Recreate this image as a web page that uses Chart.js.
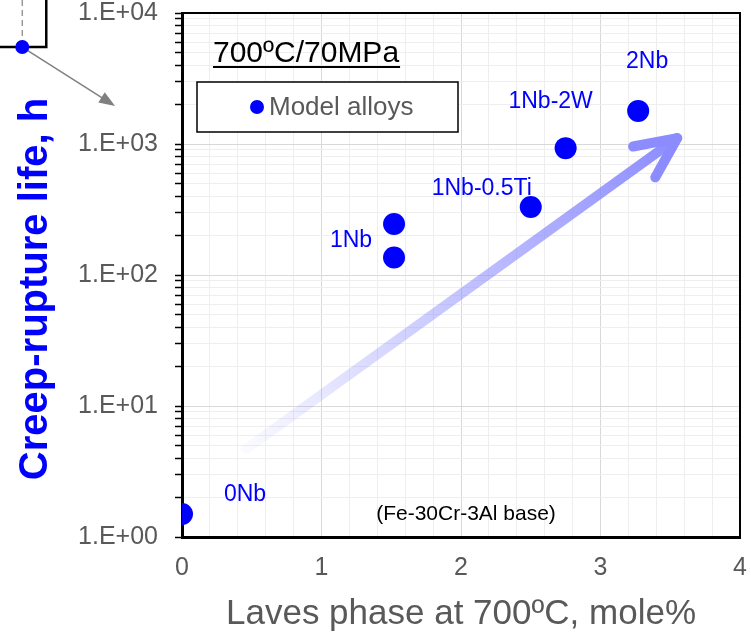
<!DOCTYPE html>
<html>
<head>
<meta charset="utf-8">
<script src="https://cdn.jsdelivr.net/npm/chart.js@4.4.0/dist/chart.umd.min.js"></script>
<style>
  html, body { margin: 0; padding: 0; background: #fff; }
</style>
</head>
<body>
<canvas id="creepChart" width="751" height="635"></canvas>
<script>
const alloys = ["0Nb", "1Nb", "1Nb", "1Nb-0.5Ti", "1Nb-2W", "2Nb"];
const lavesPhase = [0, 1.52, 1.52, 2.5, 2.75, 3.27];
const ruptureLife = [1.5, 245, 136, 330, 930, 1790];
const pointLabels = ["0Nb", "1Nb", "", "1Nb-0.5Ti", "1Nb-2W", "2Nb"];

const xTicks = [0, 1, 2, 3, 4];
const xTickLabels = ["0", "1", "2", "3", "4"];
const xMinorStep = 0.2;
const yTicks = [1, 10, 100, 1000, 10000];
const yTickLabels = ["1.E+00", "1.E+01", "1.E+02", "1.E+03", "1.E+04"];

// trend arrow and the cut-off inset marker, in data units
const trendStart = { x: 0.46, y: 4.7 };
const trendEnd = { x: 3.55, y: 1110 };
const insetDot = { x: -1.145, y: 5500 };
const insetCorner = { x: -0.973, y: 5500 };
const insetArrowTip = { x: -0.48, y: 1950 };

const blue = "#0000ff";
const gray = "#595959";
const fontFamily = "'Liberation Sans', Arial, sans-serif";
const majorGrid = "#d9d9d9";
const minorGrid = "#eeeeee";

// label offsets from its point, px
const labelOffsets = [[63, -19], [-43, 17], null, [-49, -18], [-15, -46], [9, -49]];

function buildPoints() {
    let pts = [];
    for (let i = 0; i < lavesPhase.length; i++) {
        pts.push({ x: lavesPhase[i], y: ruptureLife[i] });
    }
    return pts;
}

function isOnList(v, list) {
    for (let i = 0; i < list.length; i++) {
        if (Math.abs(v - list[i]) < 1e-6 * Math.max(1, list[i])) return i;
    }
    return -1;
}

function px(chart, p) {
    return { x: chart.scales.x.getPixelForValue(p.x), y: chart.scales.y.getPixelForValue(p.y) };
}

function noLabelPadding(scale) {
    scale.paddingTop = 0;
    scale.paddingBottom = 0;
    scale.paddingLeft = 0;
    scale.paddingRight = 0;
}

const decorPlugin = {
    id: "decor",
    beforeDatasetsDraw(chart) {
        const ctx = chart.ctx;
        const a = px(chart, trendStart);
        const b = px(chart, trendEnd);
        const grad = ctx.createLinearGradient(a.x, a.y, b.x, b.y);
        grad.addColorStop(0, "rgba(140,140,255,0.04)");
        grad.addColorStop(1, "rgba(140,140,255,1)");
        ctx.save();
        ctx.lineCap = "round";
        ctx.lineJoin = "round";
        ctx.lineWidth = 10;
        ctx.strokeStyle = grad;
        ctx.beginPath();
        ctx.moveTo(a.x, a.y);
        ctx.lineTo(b.x, b.y);
        ctx.stroke();
        const back = Math.atan2(a.y - b.y, a.x - b.x);
        const armLen = 45;
        const spread = 25 * Math.PI / 180;
        ctx.strokeStyle = "rgb(140,140,255)";
        ctx.beginPath();
        ctx.moveTo(b.x + armLen * Math.cos(back + spread), b.y + armLen * Math.sin(back + spread));
        ctx.lineTo(b.x, b.y);
        ctx.lineTo(b.x + armLen * Math.cos(back - spread), b.y + armLen * Math.sin(back - spread));
        ctx.stroke();
        ctx.restore();
    },
    afterDraw(chart) {
        const ctx = chart.ctx;
        const area = chart.chartArea;
        ctx.save();

        // top and right frame
        ctx.strokeStyle = "#000";
        ctx.lineWidth = 2;
        ctx.beginPath();
        ctx.moveTo(area.left, area.top);
        ctx.lineTo(area.right, area.top);
        ctx.lineTo(area.right, area.bottom);
        ctx.stroke();

        // point labels
        const meta = chart.getDatasetMeta(0);
        ctx.fillStyle = blue;
        ctx.font = "23px " + fontFamily;
        ctx.textAlign = "center";
        ctx.textBaseline = "middle";
        for (let i = 0; i < pointLabels.length; i++) {
            if (!pointLabels[i] || !labelOffsets[i]) continue;
            const el = meta.data[i];
            ctx.fillText(pointLabels[i], el.x + labelOffsets[i][0], el.y + labelOffsets[i][1]);
        }

        // heading
        ctx.fillStyle = "#000";
        ctx.font = "30px " + fontFamily;
        ctx.textAlign = "left";
        ctx.textBaseline = "alphabetic";
        const head = "700ºC/70MPa";
        const hx = area.left + 31, hy = area.top + 49;
        ctx.fillText(head, hx, hy);
        const hw = ctx.measureText(head).width;
        ctx.fillRect(hx, hy + 4, hw + 1, 2);

        // legend box
        ctx.lineWidth = 1.5;
        ctx.strokeStyle = "#000";
        ctx.fillStyle = "#fff";
        ctx.fillRect(area.left + 15, area.top + 69, 261, 50);
        ctx.strokeRect(area.left + 15, area.top + 69, 261, 50);
        ctx.fillStyle = blue;
        ctx.beginPath();
        ctx.arc(area.left + 75, area.top + 94, 7, 0, Math.PI * 2);
        ctx.fill();
        ctx.fillStyle = gray;
        ctx.font = "26px " + fontFamily;
        ctx.textBaseline = "middle";
        ctx.fillText("Model alloys", area.left + 87, area.top + 95);

        // base note
        ctx.fillStyle = "#000";
        ctx.font = "21px " + fontFamily;
        ctx.textAlign = "center";
        ctx.fillText("(Fe-30Cr-3Al base)", area.left + 284, area.bottom - 23);

        // y title
        ctx.save();
        ctx.translate(36, (area.top + area.bottom) / 2 + 14);
        ctx.rotate(-Math.PI / 2);
        ctx.fillStyle = blue;
        ctx.font = "bold 40px " + fontFamily;
        ctx.textAlign = "center";
        ctx.textBaseline = "middle";
        ctx.fillText("Creep-rupture life, h", 0, 0);
        ctx.restore();

        // inset marker cut off at the top left
        const d = px(chart, insetDot);
        const c = px(chart, insetCorner);
        const t = px(chart, insetArrowTip);
        ctx.strokeStyle = "#999";
        ctx.lineWidth = 1.5;
        ctx.setLineDash([6, 4]);
        ctx.beginPath();
        ctx.moveTo(d.x, 0);
        ctx.lineTo(d.x, d.y);
        ctx.stroke();
        ctx.setLineDash([]);
        ctx.strokeStyle = "#000";
        ctx.lineWidth = 2.5;
        ctx.beginPath();
        ctx.moveTo(0, c.y);
        ctx.lineTo(c.x, c.y);
        ctx.lineTo(c.x, 0);
        ctx.stroke();
        const ang = Math.atan2(t.y - d.y, t.x - d.x);
        ctx.strokeStyle = "#808080";
        ctx.fillStyle = "#808080";
        ctx.lineWidth = 1.5;
        ctx.beginPath();
        ctx.moveTo(d.x, d.y);
        ctx.lineTo(t.x - 12 * Math.cos(ang), t.y - 12 * Math.sin(ang));
        ctx.stroke();
        ctx.beginPath();
        ctx.moveTo(t.x, t.y);
        ctx.lineTo(t.x - 16 * Math.cos(ang) + 6 * Math.sin(ang), t.y - 16 * Math.sin(ang) - 6 * Math.cos(ang));
        ctx.lineTo(t.x - 16 * Math.cos(ang) - 6 * Math.sin(ang), t.y - 16 * Math.sin(ang) + 6 * Math.cos(ang));
        ctx.closePath();
        ctx.fill();
        ctx.fillStyle = blue;
        ctx.beginPath();
        ctx.arc(d.x, d.y, 7, 0, Math.PI * 2);
        ctx.fill();

        ctx.restore();
    }
};

new Chart(document.getElementById("creepChart"), {
    type: "scatter",
    data: {
        datasets: [{
            label: "Model alloys",
            data: buildPoints(),
            backgroundColor: blue,
            borderWidth: 0,
            pointRadius: 11,
            pointHoverRadius: 11
        }]
    },
    options: {
        responsive: false,
        animation: false,
        devicePixelRatio: 1,
        layout: { padding: { left: 0, top: 13, right: 10, bottom: 0 } },
        plugins: {
            legend: { display: false },
            title: { display: false },
            tooltip: { enabled: false }
        },
        scales: {
            x: {
                type: "linear",
                min: 0,
                max: 4,
                afterBuildTicks(scale) {
                    let ticks = [];
                    for (let v = xTicks[0]; v <= xTicks[xTicks.length - 1] + 1e-9; v += xMinorStep) {
                        ticks.push({ value: Math.round(v * 1000) / 1000 });
                    }
                    scale.ticks = ticks;
                },
                afterFit(scale) {
                    scale.height = 98;
                    noLabelPadding(scale);
                },
                ticks: {
                    autoSkip: false,
                    maxRotation: 0,
                    padding: 16,
                    color: gray,
                    font: { family: fontFamily, size: 25 },
                    callback(value) {
                        const i = isOnList(value, xTicks);
                        return i >= 0 ? xTickLabels[i] : "";
                    }
                },
                grid: {
                    drawTicks: false,
                    color(ctx) {
                        return isOnList(ctx.tick.value, xTicks) >= 0 ? majorGrid : minorGrid;
                    }
                },
                border: { color: "#000", width: 3 },
                title: {
                    display: true,
                    text: "Laves phase at 700ºC, mole%",
                    color: gray,
                    font: { family: fontFamily, size: 35 },
                    padding: { top: 0, bottom: 0 }
                }
            },
            y: {
                type: "logarithmic",
                min: 1,
                max: 10000,
                afterBuildTicks(scale) {
                    let ticks = [];
                    for (let k = 0; k < yTicks.length - 1; k++) {
                        for (let m = 1; m <= 9; m++) ticks.push({ value: yTicks[k] * m });
                    }
                    ticks.push({ value: yTicks[yTicks.length - 1] });
                    scale.ticks = ticks;
                },
                afterFit(scale) {
                    scale.width = 182;
                    noLabelPadding(scale);
                },
                ticks: {
                    autoSkip: false,
                    padding: 17,
                    color: gray,
                    font: { family: fontFamily, size: 25 },
                    callback(value) {
                        const i = isOnList(value, yTicks);
                        return i >= 0 ? yTickLabels[i] : "";
                    }
                },
                grid: {
                    tickLength: 7,
                    tickColor: "#000",
                    tickWidth: 1.5,
                    color(ctx) {
                        return isOnList(ctx.tick.value, yTicks) >= 0 ? majorGrid : minorGrid;
                    }
                },
                border: { color: "#000", width: 3 }
            }
        }
    },
    plugins: [decorPlugin]
});
</script>
</body>
</html>
